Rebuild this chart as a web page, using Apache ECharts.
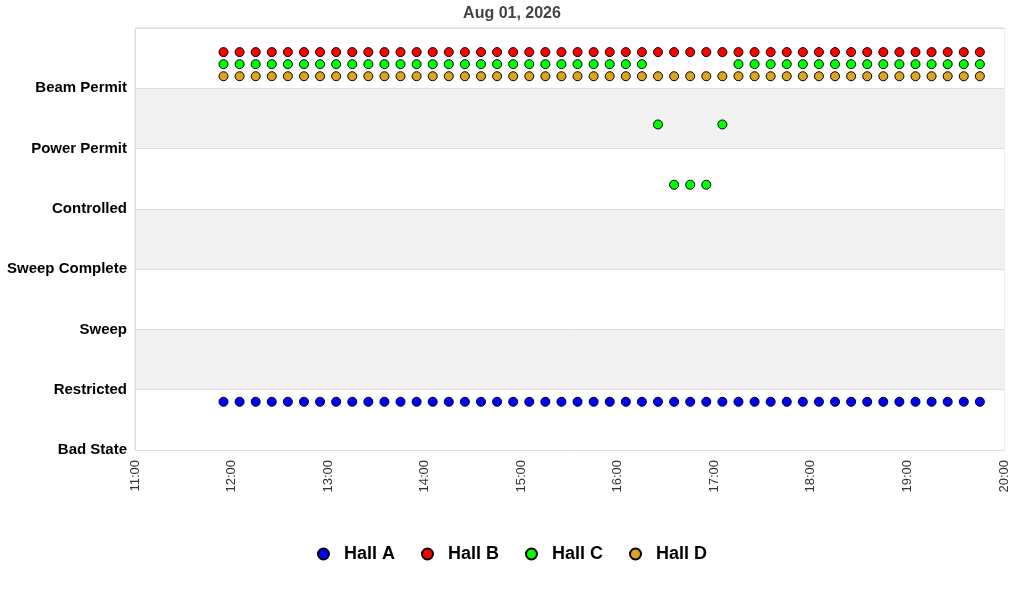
<!DOCTYPE html>
<html>
<head>
<meta charset="utf-8">
<script src="https://cdn.jsdelivr.net/npm/echarts@6/dist/echarts.min.js"></script>
<style>html,body{margin:0;padding:0;background:#fff}#c{width:1024px;height:600px}</style>
</head>
<body>
<div id="c"></div>
<script>
const stateNames = ['Bad State','Restricted','Sweep','Sweep Complete','Controlled','Power Permit','Beam Permit',''];
const xTickLabels = ['11:00','12:00','13:00','14:00','15:00','16:00','17:00','18:00','19:00','20:00'];
const times = ['11:55','12:05','12:15','12:25','12:35','12:45','12:55','13:05','13:15','13:25','13:35','13:45',
  '13:55','14:05','14:15','14:25','14:35','14:45','14:55','15:05','15:15','15:25','15:35','15:45',
  '15:55','16:05','16:15','16:25','16:35','16:45','16:55','17:05','17:15','17:25','17:35','17:45',
  '17:55','18:05','18:15','18:25','18:35','18:45','18:55','19:05','19:15','19:25','19:35','19:45'];
const hallA = [0,0,0,0,0,0,0,0,0,0,0,0, 0,0,0,0,0,0,0,0,0,0,0,0, 0,0,0,0,0,0,0,0,0,0,0,0, 0,0,0,0,0,0,0,0,0,0,0,0];
const hallB = [6,6,6,6,6,6,6,6,6,6,6,6, 6,6,6,6,6,6,6,6,6,6,6,6, 6,6,6,6,6,6,6,6,6,6,6,6, 6,6,6,6,6,6,6,6,6,6,6,6];
const hallC = [6,6,6,6,6,6,6,6,6,6,6,6, 6,6,6,6,6,6,6,6,6,6,6,6, 6,6,6,5,4,4,4,5,6,6,6,6, 6,6,6,6,6,6,6,6,6,6,6,6];
const hallD = [6,6,6,6,6,6,6,6,6,6,6,6, 6,6,6,6,6,6,6,6,6,6,6,6, 6,6,6,6,6,6,6,6,6,6,6,6, 6,6,6,6,6,6,6,6,6,6,6,6];
const hallNames = ['Hall A','Hall B','Hall C','Hall D'];
const hallColors = ['#0000ff','#ff0000','#00ff00','#daa520'];
const hallOffsets = [0.8, 0.6, 0.4, 0.2];

function toMin(t){const p=t.split(':');return (+p[0])*60+(+p[1]);}
const xMin = toMin(xTickLabels[0]), xMax = toMin(xTickLabels[xTickLabels.length-1]);
const allData = [hallA, hallB, hallC, hallD];

const chart = echarts.init(document.getElementById('c'));
const font = '"Liberation Sans", Arial, sans-serif';
chart.setOption({
  animation: false,
  backgroundColor: '#fff',
  title: {
    text: 'Aug 01, 2026', left: 'center', top: 1,
    textStyle: {fontFamily: font, fontSize: 16, fontWeight: 'bold', color: '#444'}
  },
  grid: {left: 135, right: 20, top: 28, bottom: 150, show: true, borderColor: '#ddd', borderWidth: 1, backgroundColor: 'transparent'},
  xAxis: {
    type: 'value', min: xMin, max: xMax, interval: 60,
    axisLine: {show: false}, axisTick: {show: false}, splitLine: {show: false},
    axisLabel: {
      rotate: 90, margin: 10, color: '#333', fontFamily: font, fontSize: 13,
      formatter: v => xTickLabels[Math.round((v - xMin) / 60)] || ''
    }
  },
  yAxis: {
    type: 'value', min: 0, max: 7, interval: 1,
    axisLine: {show: true, lineStyle: {color: '#ddd'}}, axisTick: {show: false},
    splitLine: {show: true, lineStyle: {color: '#ddd'}},
    splitArea: {show: true, areaStyle: {color: ['#ffffff', '#f2f2f2']}},
    axisLabel: {
      margin: 8, color: '#000', fontFamily: font, fontSize: 15, fontWeight: 'bold',
      formatter: v => stateNames[Math.round(v)]
    }
  },
  legend: {
    bottom: 32, left: 'center', itemGap: 26, itemWidth: 11, itemHeight: 11, icon: 'circle',
    data: hallNames,
    textStyle: {fontFamily: font, fontSize: 18, fontWeight: 'bold', color: '#000', padding: [0,0,0,10]}
  },
  series: hallNames.map((n, i) => ({
    name: n, type: 'scatter', symbol: 'circle', symbolSize: 9,
    itemStyle: {color: hallColors[i], borderColor: '#000', borderWidth: 1, opacity: 1},
    data: times.map((t, k) => [toMin(t), allData[i][k] + hallOffsets[i]])
  }))
});
</script>
</body>
</html>
